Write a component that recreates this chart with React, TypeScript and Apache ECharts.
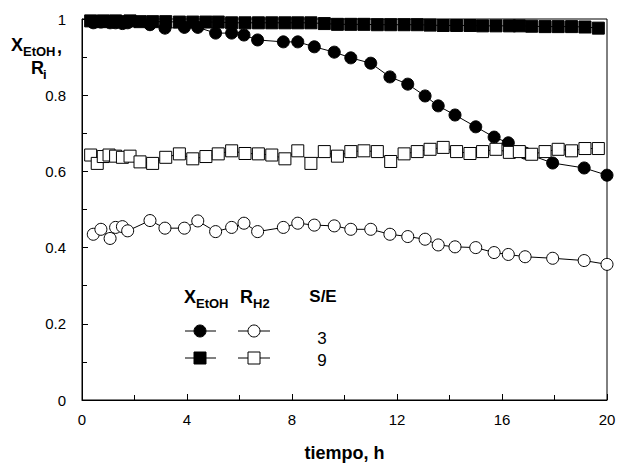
import React, { useEffect, useRef } from "react";
import * as echarts from "echarts";

// S/E = 3 : sampling times (h)
const timeSE3 = [0.43, 0.72, 1.07, 1.28, 1.54, 1.74, 2.59, 3.16, 3.9, 4.41, 5.09, 5.7, 6.17, 6.69, 7.67, 8.22, 8.85, 9.61, 10.24, 11.0, 11.73, 12.41, 13.07, 13.57, 14.21, 15.0, 15.7, 16.24, 16.88, 17.93, 19.13, 20.0];
const xEtOH_SE3 = [0.99, 0.992, 0.99, 0.99, 0.988, 0.99, 0.985, 0.976, 0.978, 0.978, 0.963, 0.963, 0.958, 0.945, 0.94, 0.94, 0.927, 0.913, 0.898, 0.884, 0.848, 0.829, 0.798, 0.772, 0.748, 0.717, 0.69, 0.675, 0.648, 0.622, 0.609, 0.59];
const rH2_SE3 = [0.435, 0.448, 0.424, 0.453, 0.455, 0.444, 0.471, 0.451, 0.451, 0.47, 0.442, 0.453, 0.464, 0.442, 0.453, 0.464, 0.459, 0.457, 0.448, 0.448, 0.435, 0.429, 0.422, 0.407, 0.402, 0.4, 0.387, 0.382, 0.376, 0.372, 0.366, 0.356];

// S/E = 9 : sampling times (h)
const timeSE9 = [0.33, 0.58, 0.81, 1.03, 1.28, 1.54, 1.83, 2.21, 2.69, 3.19, 3.71, 4.22, 4.72, 5.19, 5.7, 6.21, 6.72, 7.23, 7.73, 8.22, 8.72, 9.23, 9.73, 10.24, 10.74, 11.25, 11.76, 12.27, 12.77, 13.26, 13.76, 14.27, 14.78, 15.26, 15.77, 16.28, 16.66, 17.13, 17.64, 18.14, 18.65, 19.16, 19.67];
const xEtOH_SE9 = [0.995, 0.993, 0.995, 0.993, 0.995, 0.993, 0.995, 0.993, 0.993, 0.993, 0.992, 0.992, 0.992, 0.992, 0.99, 0.99, 0.99, 0.99, 0.99, 0.99, 0.99, 0.988, 0.986, 0.986, 0.986, 0.985, 0.985, 0.985, 0.985, 0.984, 0.983, 0.983, 0.983, 0.982, 0.982, 0.982, 0.982, 0.981, 0.98, 0.98, 0.98, 0.979, 0.976];
const rH2_SE9 = [0.643, 0.621, 0.639, 0.643, 0.64, 0.637, 0.64, 0.625, 0.621, 0.637, 0.646, 0.633, 0.639, 0.646, 0.654, 0.647, 0.646, 0.643, 0.633, 0.654, 0.621, 0.652, 0.64, 0.652, 0.654, 0.652, 0.626, 0.646, 0.652, 0.658, 0.663, 0.652, 0.647, 0.652, 0.658, 0.65, 0.652, 0.645, 0.652, 0.658, 0.654, 0.66, 0.66];

const seLabels = ["3", "9"];
const xAxisTitle = "tiempo, h";

const FONT = "'Liberation Sans', Arial, Helvetica, sans-serif";

const pair = (t: number[], v: number[]) => t.map((x, i) => [x, v[i]]);

export default function App() {
  const ref = useRef<HTMLDivElement>(null);
  useEffect(() => {
    if (!ref.current) return;
    const chart = echarts.init(ref.current, undefined, { renderer: "svg" });
    const baseSeries = (name: string, data: number[][], symbol: string, fill: string, size: number) => ({
      name,
      type: "line",
      data,
      symbol,
      symbolSize: size,
      lineStyle: { color: "#000", width: 1 },
      itemStyle: { color: fill, borderColor: "#000", borderWidth: 1 },
      emphasis: { disabled: true },
    });
    const txt = (x: number, y: number, text: string, size: number, bold = true, align = "left") => ({
      type: "text",
      x,
      y,
      style: { text, fontSize: size, fontWeight: bold ? "bold" : "normal", fontFamily: FONT, fill: "#000", align, verticalAlign: "middle" },
    });
    chart.setOption({
      animation: false,
      grid: { left: 82, right: 12, top: 19, bottom: 70, show: true, borderColor: "#000", borderWidth: 1, backgroundColor: "transparent" },
      xAxis: {
        type: "value",
        min: 0,
        max: 20,
        interval: 4,
        name: xAxisTitle,
        nameLocation: "middle",
        nameGap: 44,
        nameTextStyle: { fontSize: 18, fontWeight: "bold", fontFamily: FONT, color: "#000" },
        axisLine: { lineStyle: { color: "#000", width: 1 } },
        axisTick: { inside: true, length: 6, lineStyle: { color: "#000" } },
        minorTick: { show: true, splitNumber: 2, length: 5, lineStyle: { color: "#000" } },
        splitLine: { show: false },
        axisLabel: { fontSize: 15, fontFamily: FONT, color: "#000", margin: 12 },
      },
      yAxis: {
        type: "value",
        min: 0,
        max: 1,
        interval: 0.2,
        axisLine: { show: true, lineStyle: { color: "#000", width: 1 } },
        axisTick: { show: true, inside: true, length: 6, lineStyle: { color: "#000" } },
        minorTick: { show: true, splitNumber: 2, length: 5, lineStyle: { color: "#000" } },
        splitLine: { show: false },
        axisLabel: { fontSize: 15, fontFamily: FONT, color: "#000", margin: 16 },
      },
      series: [
        baseSeries("X_EtOH S/E=3", pair(timeSE3, xEtOH_SE3), "circle", "#000", 12),
        baseSeries("R_H2 S/E=3", pair(timeSE3, rH2_SE3), "circle", "#fff", 12),
        baseSeries("X_EtOH S/E=9", pair(timeSE9, xEtOH_SE9), "rect", "#000", 12),
        baseSeries("R_H2 S/E=9", pair(timeSE9, rH2_SE9), "rect", "#fff", 12),
      ],
      graphic: [
        // y axis title
        txt(11, 45, "X", 18),
        txt(23, 51, "EtOH", 13),
        txt(57, 47, ",", 18),
        txt(31, 68, "R", 18),
        txt(43, 74, "i", 13),
        // legend header
        txt(184, 297, "X", 18),
        txt(196, 303, "EtOH", 13),
        txt(240, 297, "R", 18),
        txt(253, 303, "H2", 13),
        txt(323, 296, "S/E", 17, true, "center"),
        // legend rows
        { type: "line", shape: { x1: 185, y1: 331, x2: 216, y2: 331 }, style: { stroke: "#000", lineWidth: 1 } },
        { type: "circle", shape: { cx: 200, cy: 331, r: 6 }, style: { fill: "#000", stroke: "#000", lineWidth: 1 } },
        { type: "line", shape: { x1: 238, y1: 331, x2: 270, y2: 331 }, style: { stroke: "#000", lineWidth: 1 } },
        { type: "circle", shape: { cx: 254, cy: 331, r: 6 }, style: { fill: "#fff", stroke: "#000", lineWidth: 1 } },
        txt(322, 338, seLabels[0], 17, false, "center"),
        { type: "line", shape: { x1: 185, y1: 358, x2: 216, y2: 358 }, style: { stroke: "#000", lineWidth: 1 } },
        { type: "rect", shape: { x: 194, y: 352, width: 12, height: 12 }, style: { fill: "#000", stroke: "#000", lineWidth: 1 } },
        { type: "line", shape: { x1: 238, y1: 358, x2: 270, y2: 358 }, style: { stroke: "#000", lineWidth: 1 } },
        { type: "rect", shape: { x: 248, y: 352, width: 12, height: 12 }, style: { fill: "#fff", stroke: "#000", lineWidth: 1 } },
        txt(322, 360, seLabels[1], 17, false, "center"),
      ],
    });
    return () => chart.dispose();
  }, []);
  return <div ref={ref} style={{ position: "fixed", left: 0, top: 0, width: 619, height: 470, background: "#fff" }} />;
}
